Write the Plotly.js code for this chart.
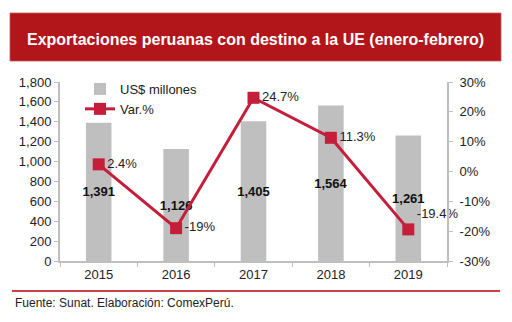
<!DOCTYPE html>
<html><head><meta charset="utf-8">
<script src="https://cdn.plot.ly/plotly-3.0.1.min.js"></script>
<style>html,body{margin:0;padding:0;background:#fff;}#c{width:512px;height:322px;}</style>
</head><body><div id="c"></div>
<script>
var years = ['2015','2016','2017','2018','2019'];
var exportsUSD = [1391, 1126, 1405, 1564, 1261];
var variation = [2.4, -19, 24.7, 11.3, -19.4];
var barLabels = ['1,391','1,126','1,405','1,564','1,261'];
var varLabels = ['2.4%','-19%','24.7%','11.3%','-19.4%'];
var leftTicks = [0,200,400,600,800,1000,1200,1400,1600,1800];
var rightTicks = [-30,-20,-10,0,10,20,30];
var rightTickText = ['-30%','-20%','-10%','0%','10%','20%','30%'];

var FONT = 'Liberation Sans, Arial, sans-serif';
var L = 60, R = 447, T = 82, B = 261;
function px(x){return (x-L)/(R-L);}
function py(y){return (B-y)/(B-T);}

var traces = [
  {type:'bar', x: years, y: exportsUSD, name:'US$ millones',
   marker:{color:'#BFBFBF'}, width:0.33,
   text: barLabels, textposition:'inside', insidetextanchor:'middle', constraintext:'none',
   textfont:{family:FONT, size:13, color:'#111', weight:'bold'},
   textangle:0, cliponaxis:false, hoverinfo:'skip'},
  {type:'scatter', mode:'lines+markers+text', x: years, y: variation, yaxis:'y2', name:'Var.%',
   line:{color:'#C41E3A', width:3}, marker:{symbol:'square', size:12, color:'#C41E3A'},
   text: varLabels, textposition:['middle right','middle right','middle right','middle right','top right'],
   textfont:{family:FONT, size:13, color:'#222'}, cliponaxis:false, hoverinfo:'skip'}
];

var layout = {
  width:512, height:322,
  margin:{l:L, r:512-R, t:T, b:322-B, pad:0},
  paper_bgcolor:'#fff', plot_bgcolor:'#fff',
  font:{family:FONT, size:13, color:'#222'},
  showlegend:true,
  legend:{x:px(80), y:py(74), xanchor:'left', yanchor:'top', bgcolor:'rgba(0,0,0,0)',
          font:{family:FONT, size:13, color:'#222'}, tracegroupgap:0, itemwidth:30},
  bargap:0.67,
  xaxis:{type:'category', range:[-0.5,4.5], showgrid:false, zeroline:false,
         showline:true, linecolor:'#BFBFBF', linewidth:2, ticks:'outside', tickson:'boundaries',
         ticklen:4, tickcolor:'#BFBFBF', tickwidth:1, tickfont:{family:FONT,size:13,color:'#222'}},
  yaxis:{range:[0,1800], tickvals:leftTicks, tickformat:',d', showgrid:false, zeroline:false,
         showline:true, linecolor:'#BFBFBF', linewidth:2, ticks:'outside', ticklen:4,
         tickcolor:'#BFBFBF', tickfont:{family:FONT,size:13,color:'#222'}},
  yaxis2:{overlaying:'y', side:'right', range:[-30,30], tickmode:'array', tickvals:rightTicks, ticktext:rightTickText,
          showgrid:false, zeroline:false, showline:true, linecolor:'#BFBFBF', linewidth:2,
          ticks:'outside', ticklen:4, tickcolor:'#BFBFBF', ticklabelstandoff:4,
          tickfont:{family:FONT,size:13,color:'#222'}},
  shapes:[
    {type:'rect', xref:'paper', yref:'paper', x0:px(10), x1:px(501), y0:py(61), y1:py(13),
     fillcolor:'#B2151A', line:{width:0.8, color:'#C85A5E'}, layer:'above'},
    {type:'line', xref:'paper', yref:'paper', x0:px(12), x1:px(500), y0:py(291), y1:py(291),
     line:{color:'#CF3F47', width:2}}
  ],
  annotations:[
    {xref:'paper', yref:'paper', x:px(255), y:py(40), xanchor:'center', yanchor:'middle',
     text:'<b>Exportaciones peruanas con destino a la UE (enero-febrero)</b>', showarrow:false,
     font:{family:FONT, size:16, color:'#fff'}},
    {xref:'paper', yref:'paper', x:px(13), y:py(303), xanchor:'left', yanchor:'middle',
     text:'Fuente: Sunat. Elaboración: ComexPerú.', showarrow:false,
     font:{family:FONT, size:12, color:'#222'}}
  ]
};
Plotly.newPlot('c', traces, layout, {displayModeBar:false, staticPlot:true});
</script></body></html>
